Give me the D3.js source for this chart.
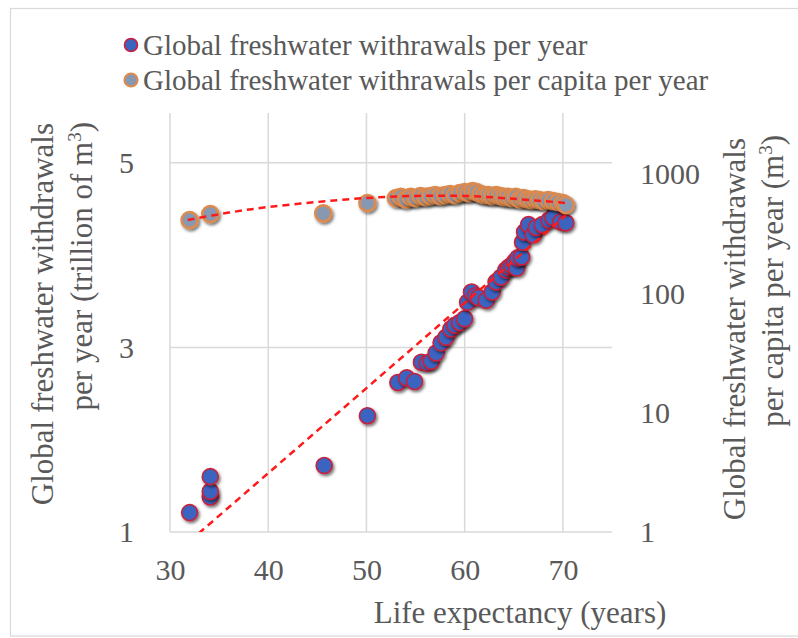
<!DOCTYPE html>
<html><head><meta charset="utf-8">
<script src="https://cdn.jsdelivr.net/npm/d3@7"></script>
<style>
body{margin:0;background:#fff;}
svg text{font-family:"Liberation Serif","Tinos","Times New Roman",Times,"DejaVu Serif",serif !important;fill:#595959;}
</style>
</head><body>
<svg id="chart" width="798" height="638"></svg>
<script>
// ---- data ----
const xTicks = [30, 40, 50, 60, 70];
const leftTicks = [1, 3, 5];
const rightTicks = [1, 10, 100, 1000];

const lifeExpTotal = [32.0, 34.1, 34.1, 34.1, 45.7, 50.1,
  53.2, 54.1, 54.9, 55.6, 56.2, 56.6, 57.1, 57.6, 58.1, 58.6, 59.0, 59.5, 60.0, 60.3,
  60.7, 61.1, 61.4, 62.2, 62.8, 63.2, 63.7, 64.2, 64.5, 64.8, 65.1, 65.3, 65.4, 65.8,
  65.9, 66.1, 66.5, 67.0, 67.3, 67.9, 68.6, 69.0, 69.8, 70.3];
const totalWithdrawal = [1.21, 1.38, 1.44, 1.60, 1.72, 2.26,
  2.62, 2.67, 2.63, 2.84, 2.83, 2.85, 2.94, 3.05, 3.11, 3.20, 3.24, 3.27, 3.31, 3.49,
  3.60, 3.56, 3.54, 3.51, 3.60, 3.71, 3.76, 3.84, 3.87, 3.89, 3.93, 3.86, 3.97, 3.98,
  4.14, 4.25, 4.33, 4.22, 4.30, 4.33, 4.38, 4.41, 4.36, 4.35];

const lifeExpPerCapita = [32.0, 34.1, 45.6, 50.1,
  53.0, 53.5, 54.0, 54.5, 55.0, 55.5, 56.0, 56.5, 57.0, 57.5, 58.0, 58.5, 59.0, 59.5,
  60.0, 60.4, 60.8, 61.2, 61.6, 62.0, 62.4, 62.8, 63.2, 63.6, 64.0, 64.4, 64.8, 65.2,
  65.6, 66.0, 66.4, 66.8, 67.2, 67.6, 68.0, 68.5, 69.0, 69.5, 70.0, 70.3];
const perCapitaWithdrawal = [412, 462, 468, 572,
  629, 643, 613, 643, 629, 655, 643, 655, 667, 655, 667, 680, 667, 693,
  707, 693, 721, 707, 680, 667, 667, 655, 667, 655, 643, 643, 629, 643,
  613, 629, 613, 605, 613, 605, 594, 605, 594, 583, 572, 550];

const trendTotalX = [32.0, 70.3];
const trendTotalY = [0.90, 4.43];
const trendPerCapitaX = [31.8, 36, 40, 45, 50, 55, 60, 65, 70.3];
const trendPerCapitaY = [412, 475, 529, 583, 629, 655, 655, 620, 572];

const legendLabels = ["Global freshwater withrawals per year",
                      "Global freshwater withrawals per capita per year"];
const xTitle = "Life expectancy (years)";
const leftTitle = ["Global freshwater withdrawals", "per year (trillion of m", "3", ")"];
const rightTitle = ["Global freshwater withdrawals", "per capita per year (m", "3", ")"];

// ---- layout ----
const L = 170, R = 612, T = 113, B = 532;
const svg = d3.select("#chart");
const x = d3.scaleLinear().domain([30, 75]).range([L, R]);
const yL = d3.scaleLinear().domain([1, 5.54]).range([B, T]);
const yR = d3.scaleLog().domain([1, 3245]).range([B, T]);

const defs = svg.append("defs");
const f = defs.append("filter").attr("id", "sh").attr("x", "-50%").attr("y", "-50%")
  .attr("width", "200%").attr("height", "200%");
f.append("feDropShadow").attr("dx", 1.5).attr("dy", 2).attr("stdDeviation", 1.5)
  .attr("flood-color", "#000").attr("flood-opacity", 0.55);
defs.append("clipPath").attr("id", "clip").append("rect")
  .attr("x", L).attr("y", T).attr("width", R - L).attr("height", B - T);

// frame
svg.append("rect").attr("x", 10.5).attr("y", 8.5).attr("width", 800).attr("height", 627.5)
  .attr("fill", "none").attr("stroke", "#d9d9d9").attr("stroke-width", 1.2);

// gridlines
const grid = svg.append("g").attr("stroke", "#d9d9d9").attr("stroke-width", 1.5);
grid.selectAll(".h").data(leftTicks).join("line")
  .attr("x1", L).attr("x2", R).attr("y1", d => yL(d)).attr("y2", d => yL(d));
grid.selectAll(".v").data(xTicks).join("line")
  .attr("x1", d => x(d)).attr("x2", d => x(d)).attr("y1", T).attr("y2", B);

// axes
function styleAxis(g) {
  g.attr("font-family", null).attr("font-size", null);
  g.select(".domain").remove();
  g.selectAll("text").attr("fill", "#595959").style("font-size", "30px");
}
const ax = svg.append("g").attr("transform", `translate(0,${B})`)
  .call(d3.axisBottom(x).tickValues(xTicks).tickFormat(d3.format("d")).tickSize(0));
styleAxis(ax);
ax.selectAll("text").attr("y", 48).attr("dy", 0);

const al = svg.append("g").attr("transform", `translate(${L},0)`)
  .call(d3.axisLeft(yL).tickValues(leftTicks).tickFormat(d3.format("d")).tickSize(0));
styleAxis(al);
al.selectAll("text").attr("x", -36).attr("dy", "0.33em");

const ar = svg.append("g").attr("transform", `translate(${R},0)`)
  .call(d3.axisRight(yR).tickValues(rightTicks).tickFormat(d3.format("d")).tickSize(0));
styleAxis(ar);
ar.selectAll("text").attr("x", 28).attr("dy", "0.33em");

// points
const blue = svg.append("g");
blue.selectAll("circle").data(lifeExpTotal).join("circle")
  .attr("cx", d => x(d)).attr("cy", (d, i) => yL(totalWithdrawal[i])).attr("r", 8)
  .attr("fill", "#3a64c0").attr("stroke", "#c8203c").attr("stroke-width", 1.6)
  .attr("filter", "url(#sh)");

const orange = svg.append("g");
orange.selectAll("circle").data(lifeExpPerCapita).join("circle")
  .attr("cx", d => x(d)).attr("cy", (d, i) => yR(perCapitaWithdrawal[i])).attr("r", 8)
  .attr("fill", "#8798b3").attr("stroke", "#dc8a4e").attr("stroke-width", 2.6)
  .attr("filter", "url(#sh)");

// trendlines
const tg = svg.append("g").attr("clip-path", "url(#clip)");
tg.append("path")
  .attr("d", d3.line().x(d => x(d)).y((d, i) => yL(trendTotalY[i]))(trendTotalX))
  .attr("fill", "none").attr("stroke", "#ff1a1a").attr("stroke-width", 2.5)
  .attr("stroke-dasharray", "7,5");
tg.append("path")
  .attr("d", d3.line().curve(d3.curveCatmullRom).x(d => x(d)).y((d, i) => yR(trendPerCapitaY[i]))(trendPerCapitaX))
  .attr("fill", "none").attr("stroke", "#ff1a1a").attr("stroke-width", 2.5)
  .attr("stroke-dasharray", "7,5");

// legend
const lg = svg.append("g");
const lgStyles = [{fill: "#3a64c0", stroke: "#c8203c", sw: 1.6}, {fill: "#8798b3", stroke: "#dc8a4e", sw: 2.2}];
legendLabels.forEach((t, i) => {
  const cy = 45 + i * 35;
  lg.append("circle").attr("cx", 131).attr("cy", cy).attr("r", 6.5)
    .attr("fill", lgStyles[i].fill).attr("stroke", lgStyles[i].stroke).attr("stroke-width", lgStyles[i].sw);
  lg.append("text").attr("x", 143).attr("y", cy).attr("dy", "0.33em")
    .style("font-size", "29px").text(t);
});

// axis titles
svg.append("text").attr("x", 520).attr("y", 623).attr("text-anchor", "middle")
  .style("font-size", "31px").text(xTitle);

function rotTitle(xb1, xb2, top1, top2, parts) {
  svg.append("text").attr("transform", `translate(${xb1},${top1}) rotate(-90)`)
    .attr("text-anchor", "end").style("font-size", "31px").text(parts[0]);
  const t2 = svg.append("text").attr("transform", `translate(${xb2},${top2}) rotate(-90)`)
    .attr("text-anchor", "end").style("font-size", "31px");
  t2.append("tspan").text(parts[1]);
  t2.append("tspan").attr("dy", -11).style("font-size", "19px").text(parts[2]);
  t2.append("tspan").attr("dy", 11).text(parts[3]);
}
rotTitle(53, 92, 123, 122, leftTitle);
rotTitle(745, 783, 138, 135, rightTitle);
</script>
</body></html>
